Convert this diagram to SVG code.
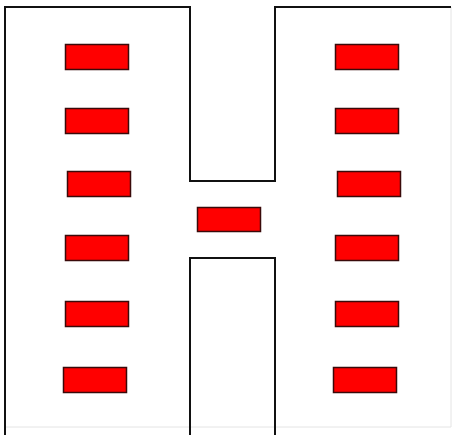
<svg xmlns="http://www.w3.org/2000/svg" width="458" height="435" viewBox="0 0 458 435">
<style>
.wall{fill:none;stroke:#111;stroke-width:2}
.faint{fill:none;stroke:#e4e4e4;stroke-width:1}
.r{fill:#ff0000;stroke:#3a0a0a;stroke-width:1.5}
</style>
<rect width="458" height="435" fill="#fff"/>
<g id="outline">
<path class="faint" d="M451,7 V427 H5"/>
<path class="wall" d="M5,436 V7 H190 V181 H275 V7 H451"/>
<path class="wall" d="M190,436 V258 H275 V436"/>
</g>
<g id="left">
<rect id="l1" class="r" x="65.5" y="44.5" width="63" height="25"/>
<rect id="l2" class="r" x="65.5" y="108.5" width="63" height="25"/>
<rect id="l3" class="r" x="67.5" y="171.5" width="63" height="25"/>
<rect id="l4" class="r" x="65.5" y="235.5" width="63" height="25"/>
<rect id="l5" class="r" x="65.5" y="301.5" width="63" height="25"/>
<rect id="l6" class="r" x="63.5" y="367.5" width="63" height="25"/>
</g>
<g id="middle">
<rect id="m1" class="r" x="197.5" y="207.5" width="63" height="24"/>
</g>
<g id="right">
<rect id="r1" class="r" x="335.5" y="44.5" width="63" height="25"/>
<rect id="r2" class="r" x="335.5" y="108.5" width="63" height="25"/>
<rect id="r3" class="r" x="337.5" y="171.5" width="63" height="25"/>
<rect id="r4" class="r" x="335.5" y="235.5" width="63" height="25"/>
<rect id="r5" class="r" x="335.5" y="301.5" width="63" height="25"/>
<rect id="r6" class="r" x="333.5" y="367.5" width="63" height="25"/>
</g>
</svg>
